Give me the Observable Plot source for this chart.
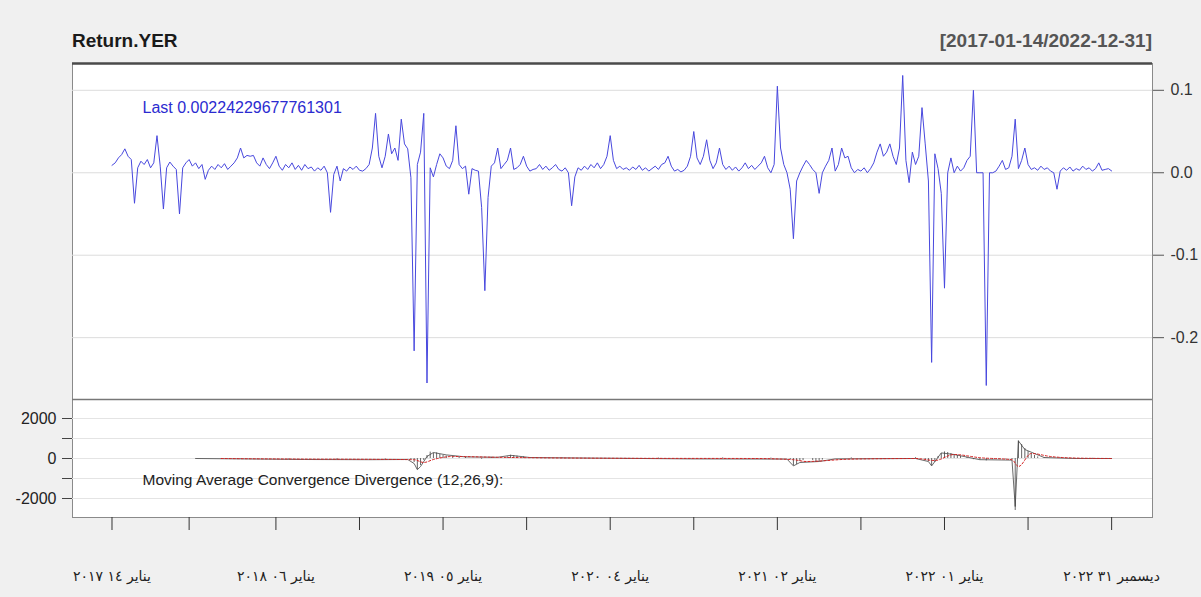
<!DOCTYPE html>
<html><head><meta charset="utf-8">
<script src="https://cdn.jsdelivr.net/npm/d3@7"></script>
<script src="https://cdn.jsdelivr.net/npm/@observablehq/plot@0.6"></script>
<style>
html,body{margin:0;padding:0;background:#f0f0f0;}
#wrap{position:relative;width:1201px;height:597px;overflow:hidden;background:#f0f0f0;font-family:"Liberation Sans",Arial,sans-serif;}
#wrap svg{position:absolute;left:0;}
.t{position:absolute;white-space:nowrap;font-weight:bold;font-size:19px;}
</style></head><body><div id="wrap">
<div class="t" id="title" style="left:72px;top:30px;color:#1a1a1a;">Return.YER</div>
<div class="t" id="range" style="right:49px;top:30px;color:#555;">[2017-01-14/2022-12-31]</div>
</div>
<script>
// ---- data ----
const firstWeek = "2017-01-14";
const retValues = [
0.009,0.012,0.018,0.022,0.029,0.02,0.016,-0.037,0.006,0.014,
0.01,0.016,0.006,0.012,0.045,0.008,-0.044,0.006,0.013,0.008,
0.004,-0.05,0.006,0.012,0.016,0.008,0.012,0.005,0.01,-0.008,
0.003,0.008,0.004,0.01,0.006,0.011,0.004,0.008,0.012,0.018,
0.03,0.018,0.021,0.02,0.021,0.012,0.008,0.018,0.01,0.005,
0.012,0.02,0.008,0.003,0.01,0.006,0.012,0.004,0.009,0.003,
0.01,0.005,0.007,0.002,0.006,0.003,0.008,0.0,-0.048,-0.002,
0.008,-0.01,0.005,0.002,0.007,0.004,0.008,0.003,0.002,0.005,
0.01,0.03,0.072,0.02,0.006,0.02,0.047,0.023,0.03,0.015,
0.065,0.035,0.029,-0.006,-0.216,0.01,0.025,0.072,-0.255,0.006,
-0.005,0.01,0.023,0.018,0.008,0.005,0.015,0.057,0.01,0.005,
0.008,-0.026,0.005,0.003,0.002,-0.042,-0.143,-0.03,0.008,0.012,
0.03,0.005,0.01,0.015,0.03,0.004,0.006,0.01,0.02,0.008,
0.002,0.004,0.005,0.01,0.004,0.008,0.003,0.006,0.01,0.004,
0.002,0.006,0.0,-0.04,-0.005,0.006,0.003,0.008,0.004,0.01,
0.006,0.012,0.005,0.01,0.02,0.045,0.015,0.005,0.008,0.004,
0.006,0.003,0.007,0.004,0.009,0.003,0.006,0.002,0.005,0.008,
0.004,0.01,0.012,0.02,0.008,0.002,0.004,0.001,0.003,0.008,
0.02,0.05,0.018,0.01,0.02,0.04,0.015,0.005,0.012,0.03,
0.01,0.004,0.008,0.003,0.007,0.002,0.006,0.012,0.005,0.009,
0.004,0.008,0.012,0.02,0.006,0.0,0.01,0.105,0.03,0.01,
0.0,-0.02,-0.08,-0.01,0.0,0.008,0.015,0.01,0.004,0.0,
-0.025,0.0,0.008,0.015,0.03,0.002,0.01,0.03,0.018,0.02,
0.006,0.0,0.004,0.002,0.006,0.0,0.005,0.012,0.025,0.035,
0.02,0.025,0.035,0.02,0.01,0.03,0.118,0.015,-0.012,0.025,
0.01,0.02,0.079,0.035,-0.01,-0.23,0.023,0.005,-0.025,-0.14,
0.0,0.018,0.0,0.008,0.002,0.006,0.015,0.02,0.1,0.0,
0.0,0.0,-0.258,0.0,0.0,0.002,0.008,0.015,0.004,0.006,
0.02,0.065,0.005,0.015,0.03,0.01,0.004,0.006,0.003,0.008,
0.004,0.006,0.002,0.0,-0.02,0.002,0.006,0.003,0.007,0.002,
0.005,0.003,0.008,0.004,0.006,0.002,0.005,0.012,0.003,0.004,
0.005,0.0022
];
const lastLabel = "Last 0.00224229677761301";
const retTicks = [0.1, 0.0, -0.1, -0.2];

// MACD panel (week index, value)
const histWeeks  = [26,40,55,70,85,93,94,95,96,97,98,99,100,101,102,103,104,106,108,110,115,118,123,124,125,126,128,132,140,150,160,170,180,190,200,205,211,212,213,214,215,218,219,220,221,230,240,250,253,254,255,256,257,258,259,260,261,262,263,264,266,268,270,272,274,276,278,280,281,282,283,284,285,286,287,288,290,295,300,305,311];
const histValues = [0,-20,-30,-40,-30,-80,-200,-560,-350,-100,150,320,260,280,200,150,120,90,60,50,-40,60,80,160,140,120,80,40,20,-20,-30,20,-20,30,-30,20,-60,-370,-300,-150,-100,-100,-200,-150,-80,30,-20,40,-60,-150,-370,-200,100,250,330,300,250,200,150,100,60,-60,-80,-120,-60,-40,-20,-60,-2600,880,700,500,350,250,150,80,40,20,-20,10,0];
const macdWeeks  = [26,40,60,80,92,94,95,96,98,100,104,110,120,124,130,150,180,210,212,214,220,225,250,254,255,258,262,270,280,281,282,284,290,300,311];
const macdValues = [0,-20,-50,-60,-50,-250,-560,-400,100,300,180,80,60,160,50,20,-20,-30,-370,-200,-150,-20,0,-150,-370,280,200,-60,-80,-2400,880,450,50,0,0];
const signalWeeks  = [34,60,80,94,97,100,106,120,160,200,212,216,230,250,256,262,270,280,282,286,292,300,311];
const signalValues = [0,-30,-40,-60,-200,-50,100,60,10,0,-60,-150,-30,0,-100,200,40,-60,-400,250,100,20,0];
const macdTicks = [2000, 1000, 0, -1000, -2000];
const macdTitle = "Moving Average Convergence Divergence (12,26,9):";

// x axis
const tickWeeks = [0,24,51,77,103,129,155,181,207,233,259,285,311];
const labelWeeks = [0,51,103,155,207,259,311];
const labelTexts = ["يناير ١٤ ٢٠١٧","يناير ٠٦ ٢٠١٨","يناير ٠٥ ٢٠١٩","يناير ٠٤ ٢٠٢٠","يناير ٠٢ ٢٠٢١","يناير ٠١ ٢٠٢٢","ديسمبر ٣١ ٢٠٢٢"];

// ---- build ----
const start = new Date(firstWeek + "T00:00:00Z");
const wk = w => d3.utcDay.offset(start, Math.round(7 * w));
const xDomain = [wk(-12.3), wk(323.7)];
const retData = retValues.map((v, i) => ({date: wk(i), value: v}));
const histData = histWeeks.map((w, i) => ({date: wk(w), value: histValues[i]}));
const macdData = macdWeeks.map((w, i) => ({date: wk(w), value: macdValues[i]}));
const sigData = signalWeeks.map((w, i) => ({date: wk(w), value: signalValues[i]}));
const labelMap = new Map(labelWeeks.map((w, i) => [+wk(w), labelTexts[i]]));
const font = '"Liberation Sans", Arial, sans-serif';

const yTop = [-0.275, 0.1325];
const topPlot = Plot.plot({
  width: 1201, height: 400,
  marginTop: 63, marginBottom: 1, marginLeft: 72, marginRight: 49,
  style: {background: "transparent", fontFamily: font, fontSize: "16px", color: "#333", overflow: "visible"},
  x: {type: "utc", domain: xDomain, axis: null},
  y: {domain: yTop, axis: null},
  marks: [
    Plot.frame({fill: "white", stroke: "#8a8a8a"}),
    Plot.ruleY(retTicks, {stroke: "#dcdcdc"}),
    Plot.line(retData, {x: "date", y: "value", stroke: "#4848de", strokeWidth: 1}),
    Plot.axisY(retTicks, {anchor: "right", label: null, tickSize: 11, tickPadding: 7, stroke: "#555", fill: "#333",
      tickFormat: d => d.toFixed(1), fontSize: 16}),
    Plot.ruleY([yTop[1]], {stroke: "#4a4a4a", strokeWidth: 2.5}),
    Plot.text([lastLabel], {frameAnchor: "top-left", dx: 70, dy: 38, fill: "#2b2bd0", fontSize: 16})
  ]
});
topPlot.style.top = "0px";

const yBot = [-2950, 2950];
const botPlot = Plot.plot({
  width: 1201, height: 198,
  marginTop: 0, marginBottom: 80, marginLeft: 72, marginRight: 49,
  style: {background: "transparent", fontFamily: font, fontSize: "16px", color: "#222", overflow: "visible"},
  x: {type: "utc", domain: xDomain, axis: null},
  y: {domain: yBot, axis: null},
  marks: [
    Plot.frame({fill: "white", stroke: "#8a8a8a"}),
    Plot.ruleY(macdTicks, {stroke: "#e4e4e4"}),
    Plot.ruleX(histData, {x: "date", y1: 0, y2: "value", stroke: "#666", strokeWidth: 1}),
    Plot.line(macdData, {x: "date", y: "value", stroke: "#444", strokeWidth: 0.8}),
    Plot.line(sigData, {x: "date", y: "value", stroke: "#d42020", strokeWidth: 1, strokeDasharray: "2,2", curve: "monotone-x"}),
    Plot.axisY(macdTicks, {anchor: "left", label: null, tickSize: 10, tickPadding: 6, stroke: "#444", fill: "#222",
      tickFormat: d => (d % 2000 === 0 ? String(d) : ""), fontSize: 16}),
    Plot.axisX(tickWeeks.map(wk), {anchor: "bottom", label: null, tickSize: 13, stroke: "#333", tickFormat: () => ""}),
    Plot.axisX(labelWeeks.map(wk), {anchor: "bottom", label: null, tickSize: 0, tickPadding: 54, fill: "#222",
      tickFormat: d => labelMap.get(+d), fontSize: 14, fontFamily: '"DejaVu Sans", sans-serif'}),
    Plot.ruleY([yBot[1]], {stroke: "#777", strokeWidth: 1.5}),
    Plot.text([macdTitle], {frameAnchor: "top-left", dx: 70, dy: 74, fill: "#222", fontSize: 15.5})
  ]
});
botPlot.style.top = "399px";

const wrap = document.getElementById("wrap");
wrap.appendChild(topPlot);
wrap.appendChild(botPlot);
</script>
</body></html>
